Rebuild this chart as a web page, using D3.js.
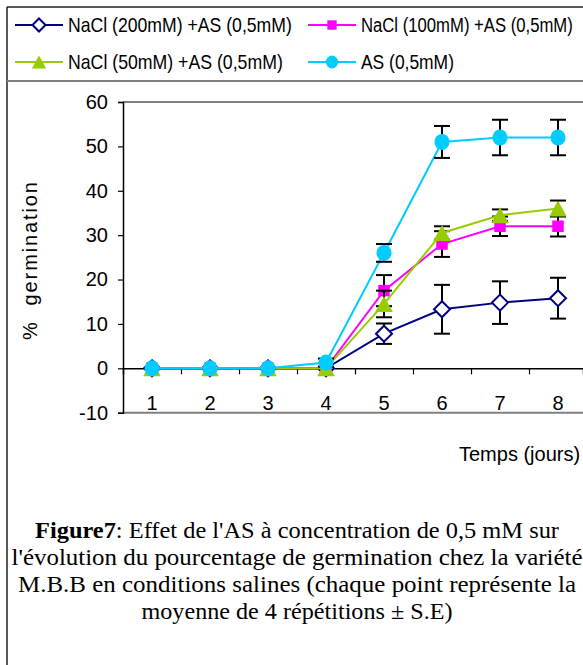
<!DOCTYPE html>
<html>
<head>
<meta charset="utf-8">
<script src="https://cdn.jsdelivr.net/npm/d3@7"></script>
<style>
  html, body { margin: 0; padding: 0; background: #fff; }
  svg { display: block; }
</style>
</head>
<body>
<svg id="chart" width="583" height="665"></svg>
<script>
// Germination days (x categories)
const days = [1, 2, 3, 4, 5, 6, 7, 8];

// Series names, as shown in the legend
const seriesNames = [
  "NaCl (200mM) +AS (0,5mM)",
  "NaCl (100mM) +AS (0,5mM)",
  "NaCl (50mM) +AS (0,5mM)",
  "AS (0,5mM)"
];

// Mean germination (%) for each day
const nacl200 = [0, 0, 0, 0, 7.8, 13.3, 14.8, 15.8];
const nacl100 = [0, 0, 0, 0, 17.5, 28, 32, 32];
const nacl50  = [0, 0, 0, 0, 14.5, 30.5, 34.5, 36];
const asOnly  = [0, 0, 0, 1.3, 26, 51, 52, 52];

// Standard errors
const nacl200Err = [0, 0, 0, 0, 2.3, 5.5, 4.8, 4.6];
const nacl100Err = [0, 0, 0, 0, 3.5, 2.9, 2.2, 2.3];
const nacl50Err  = [0, 0, 0, 0, 3, 1.5, 1.3, 1.8];
const asOnlyErr  = [0, 0, 0, 0.9, 2, 3.6, 4, 4];

// Y axis ticks
const yTicks = [-10, 0, 10, 20, 30, 40, 50, 60];

const captionLines = [
  [{t: "Figure7", b: true}, {t: ": Effet de l'AS à concentration de 0,5 mM sur"}],
  [{t: "l'évolution du pourcentage de germination chez la variété"}],
  [{t: "M.B.B en conditions salines (chaque point représente la"}],
  [{t: "moyenne de 4 répétitions ± S.E)"}]
];

const series = [
  {name: seriesNames[0], values: nacl200, err: nacl200Err, color: "#000080", marker: "diamond"},
  {name: seriesNames[1], values: nacl100, err: nacl100Err, color: "#FF00FF", marker: "square"},
  {name: seriesNames[2], values: nacl50,  err: nacl50Err,  color: "#99CC00", marker: "triangle"},
  {name: seriesNames[3], values: asOnly,  err: asOnlyErr,  color: "#00CCFF", marker: "circle"}
];

const svg = d3.select("#chart");
const sans = "'Liberation Sans', Arial, Helvetica, sans-serif";
const serif = "'Liberation Serif', 'Times New Roman', serif";

// Squeeze a text horizontally so it spans the given width
function fitWidth(sel, x0, y0, width) {
  const natural = sel.node().getComputedTextLength();
  const sx = Math.min(1, width / natural);
  sel.attr("x", 0).attr("y", 0)
    .attr("transform", `translate(${x0},${y0}) scale(${sx},1)`);
}

// Outer frame
svg.append("line").attr("x1", 7).attr("x2", 583).attr("y1", 7).attr("y2", 7)
  .attr("stroke", "#222").attr("stroke-width", 1.5);
svg.append("line").attr("x1", 7).attr("x2", 7).attr("y1", 7).attr("y2", 665)
  .attr("stroke", "#222").attr("stroke-width", 1.5);
svg.append("line").attr("x1", 7).attr("x2", 583).attr("y1", 81).attr("y2", 81)
  .attr("stroke", "#808080").attr("stroke-width", 2);

// Scales
const x = d3.scaleBand().domain(days).range([123, 587]).padding(0);
const cx = d => x(d) + x.bandwidth() / 2;
const y = d3.scaleLinear().domain([-10, 60]).range([412.7, 102]);

// Plot frame (top and bottom gray lines)
svg.append("line").attr("x1", 123).attr("x2", 583).attr("y1", y(60)).attr("y2", y(60))
  .attr("stroke", "#808080").attr("stroke-width", 2);
svg.append("line").attr("x1", 123).attr("x2", 583).attr("y1", y(-10)).attr("y2", y(-10))
  .attr("stroke", "#808080").attr("stroke-width", 2);

// Y axis
const yAxis = svg.append("g").attr("transform", "translate(123,0)")
  .call(d3.axisLeft(y).tickValues(yTicks).tickSize(5).tickPadding(10).tickFormat(d => String(d)));
yAxis.select(".domain").attr("stroke", "#000").attr("stroke-width", 1.5);
yAxis.selectAll(".tick line").attr("stroke", "#000").attr("stroke-width", 1.2);
yAxis.selectAll(".tick text").attr("font-family", sans).attr("font-size", 20).attr("fill", "#000");

// Zero line with category boundary ticks
const boundaries = days.map(d => x(d)).slice(1);
const zeroAxis = svg.append("g").attr("transform", `translate(0,${y(0)})`)
  .call(d3.axisBottom(d3.scaleLinear().domain([123, 583]).range([123, 583]))
    .tickValues(boundaries).tickSize(6).tickFormat(""));
zeroAxis.select(".domain").attr("stroke", "#000").attr("stroke-width", 1.5);
zeroAxis.selectAll(".tick line").attr("stroke", "#000").attr("stroke-width", 1.2);

// Category labels
svg.append("g").selectAll("text").data(days).join("text")
  .attr("x", d => cx(d)).attr("y", 410)
  .attr("text-anchor", "middle")
  .attr("font-family", sans).attr("font-size", 20).attr("fill", "#000")
  .text(d => d);

// Axis titles
svg.append("text")
  .attr("transform", "translate(37,340) rotate(-90)")
  .attr("font-family", sans).attr("font-size", 20).attr("fill", "#000")
  .attr("textLength", 158).attr("lengthAdjust", "spacing")
  .attr("xml:space", "preserve")
  .text("%  germination");

const xTitle = svg.append("text")
  .attr("font-family", sans).attr("font-size", 20).attr("fill", "#000")
  .text("Temps (jours)");
fitWidth(xTitle, 459, 461, 123);

// Marker drawing
function drawMarker(g, type, color, px, py, s) {
  if (type === "diamond") {
    const h = s / 2;
    g.append("path")
      .attr("d", `M${px},${py - h}L${px + h},${py}L${px},${py + h}L${px - h},${py}Z`)
      .attr("fill", "#fff").attr("stroke", color).attr("stroke-width", 2);
  } else if (type === "square") {
    const h = s * 0.36;
    g.append("rect").attr("x", px - h).attr("y", py - h).attr("width", 2 * h).attr("height", 2 * h)
      .attr("fill", color);
  } else if (type === "triangle") {
    const w = s * 0.55, hh = s * 0.5;
    g.append("path")
      .attr("d", `M${px},${py - hh}L${px + w},${py + hh}L${px - w},${py + hh}Z`)
      .attr("fill", color);
  } else {
    g.append("ellipse").attr("cx", px).attr("cy", py).attr("rx", s * 0.47).attr("ry", s * 0.5)
      .attr("fill", color);
  }
}

const line = d3.line().x((v, i) => cx(days[i])).y(v => y(v));

// Series: line, error bars, markers (drawn in legend order)
series.forEach(s => {
  const g = svg.append("g");
  g.append("path").datum(s.values).attr("d", line)
    .attr("fill", "none").attr("stroke", s.color).attr("stroke-width", 2);
  const eg = g.append("g").attr("stroke", "#000").attr("stroke-width", 2);
  s.values.forEach((v, i) => {
    const e = s.err[i];
    if (!e) return;
    const px = cx(days[i]);
    eg.append("line").attr("x1", px).attr("x2", px).attr("y1", y(v - e)).attr("y2", y(v + e));
    eg.append("line").attr("x1", px - 8).attr("x2", px + 8).attr("y1", y(v - e)).attr("y2", y(v - e));
    eg.append("line").attr("x1", px - 8).attr("x2", px + 8).attr("y1", y(v + e)).attr("y2", y(v + e));
  });
  s.values.forEach((v, i) => drawMarker(g, s.marker, s.color, cx(days[i]), y(v), 16));
});

// Legend
const legendPos = [
  {lx: 15, ly: 25, tw: 224},
  {lx: 308, ly: 25, tw: 212},
  {lx: 15, ly: 62, tw: 215},
  {lx: 308, ly: 62, tw: 93}
];
series.forEach((s, i) => {
  const p = legendPos[i];
  const g = svg.append("g");
  g.append("line").attr("x1", p.lx).attr("x2", p.lx + 48).attr("y1", p.ly).attr("y2", p.ly)
    .attr("stroke", s.color).attr("stroke-width", 2);
  drawMarker(g, s.marker, s.color, p.lx + 24, p.ly, 13);
  const t = g.append("text")
    .attr("font-family", sans).attr("font-size", 20).attr("fill", "#000")
    .text(s.name);
  fitWidth(t, p.lx + 53, p.ly + 7, p.tw);
});

// Caption
const capWidths = [524, 571, 558, 311];
const capBase = [538, 565, 592, 619];
captionLines.forEach((parts, i) => {
  const t = svg.append("text")
    .attr("x", 297).attr("y", capBase[i])
    .attr("text-anchor", "middle")
    .attr("font-family", serif).attr("font-size", 23).attr("fill", "#000")
    .attr("textLength", capWidths[i]).attr("lengthAdjust", "spacingAndGlyphs");
  parts.forEach(p => {
    t.append("tspan").attr("font-weight", p.b ? "bold" : "normal").text(p.t);
  });
});
</script>
</body>
</html>
